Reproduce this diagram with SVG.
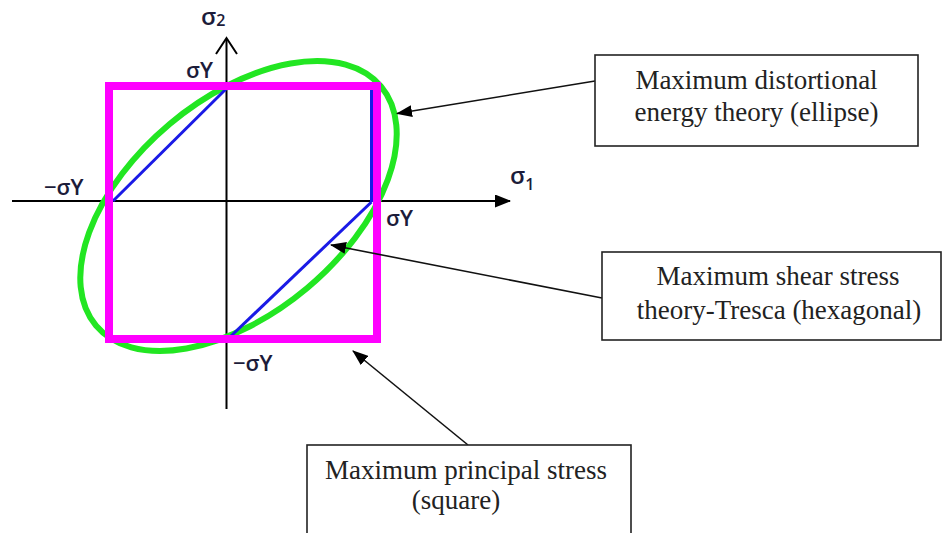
<svg xmlns="http://www.w3.org/2000/svg" width="944" height="533" viewBox="0 0 944 533">
<style>
.axis{stroke:#000;stroke-width:2;fill:none}
.lbl{font-family:"Open Sans","Liberation Sans",Arial,sans-serif;font-weight:600;font-size:22px;fill:#1c1c3a}
.box{fill:#fff;stroke:#222;stroke-width:1.6}
.btxt{font-family:"Liberation Serif","Times New Roman",serif;font-size:27px;fill:#222;text-anchor:middle}
.conn{stroke:#111;stroke-width:1.6;fill:none;marker-end:url(#ah)}
.hex{fill:none;stroke:#1a1ae6;stroke-width:3}
</style>
<defs>
<marker id="ah" markerUnits="userSpaceOnUse" markerWidth="16" markerHeight="12" refX="15" refY="6" orient="auto">
<path d="M0,0 L16,6 L0,12 z" fill="#000"/>
</marker>
<marker id="ahx" markerUnits="userSpaceOnUse" markerWidth="16" markerHeight="13" refX="15" refY="6.5" orient="auto">
<path d="M0,0 L16,6.5 L0,13 z" fill="#000"/>
</marker>
</defs>
<rect width="944" height="533" fill="#fff"/>
<g id="axes">
<line class="axis" x1="12" y1="201" x2="510" y2="201" marker-end="url(#ahx)"/>
<line class="axis" x1="226.5" y1="409" x2="226.5" y2="39"/>
<polyline class="axis" points="216,54 226.5,38 237,54"/>
</g>
<g id="ellipse">
<ellipse cx="238.5" cy="206" rx="186" ry="107" transform="rotate(-40 238.5 206)" fill="none" stroke="#22e622" stroke-width="6"/>
</g>
<g id="hexagon">
<line class="hex" x1="113" y1="201" x2="227" y2="88"/>
<line class="hex" x1="371.5" y1="88" x2="371.5" y2="202"/>
<line class="hex" x1="371.5" y1="202" x2="231" y2="336"/>
</g>
<g id="square">
<rect x="109" y="86" width="268" height="253" fill="none" stroke="#ff00ff" stroke-width="8"/>
</g>
<g id="labels">
<text class="lbl" x="201" y="25" style="font-size:24px">σ<tspan style="font-size:16px" dy="1">2</tspan></text>
<text class="lbl" x="510" y="184" style="font-size:24px">σ<tspan style="font-size:16px" dy="6">1</tspan></text>
<text class="lbl" x="186" y="78">σY</text>
<text class="lbl" x="44" y="195">−σY</text>
<text class="lbl" x="386" y="226">σY</text>
<text class="lbl" x="233" y="371">−σY</text>
</g>
<g id="connectors">
<line class="conn" x1="595" y1="81" x2="397" y2="113.5"/>
<line class="conn" x1="602" y1="298" x2="331" y2="245"/>
<line class="conn" x1="468" y1="445" x2="353" y2="351"/>
</g>
<g id="box-distortion">
<rect class="box" x="595" y="55" width="323" height="91"/>
<text class="btxt" x="756.5" y="89">Maximum distortional</text>
<text class="btxt" x="756.5" y="121">energy  theory (ellipse)</text>
</g>
<g id="box-tresca">
<rect class="box" x="602" y="252" width="339" height="88"/>
<text class="btxt" x="778" y="285">Maximum shear stress</text>
<text class="btxt" x="779" y="319">theory-Tresca (hexagonal)</text>
</g>
<g id="box-principal">
<rect class="box" x="307" y="445" width="324" height="100"/>
<text class="btxt" x="466" y="479">Maximum principal stress</text>
<text class="btxt" x="456" y="509">(square)</text>
</g>
</svg>
